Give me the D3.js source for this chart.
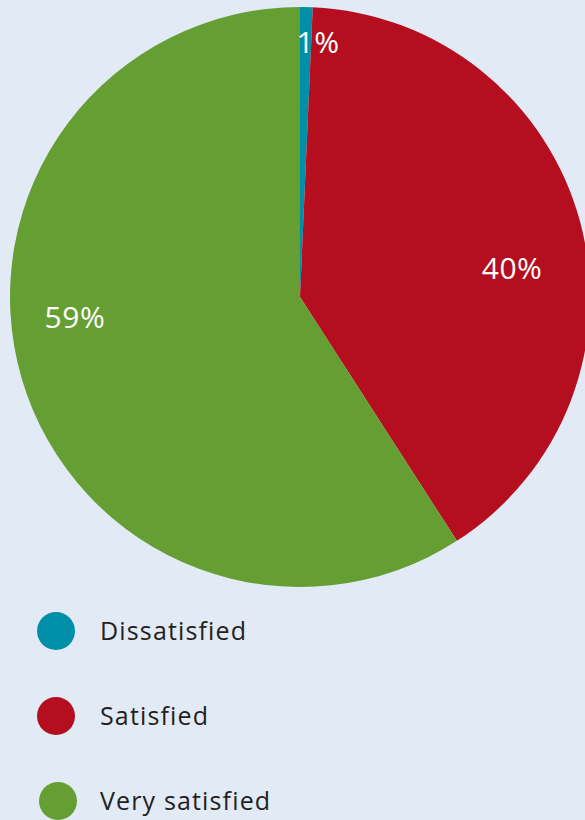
<!DOCTYPE html>
<html><head><meta charset="utf-8">
<script src="https://cdn.jsdelivr.net/npm/d3@7"></script>
<style>html,body{margin:0;padding:0;background:#E2EAF6;}svg{display:block;}</style>
</head><body>
<svg id="c" width="585" height="820"></svg>
<script>
const categories = ["Dissatisfied", "Satisfied", "Very satisfied"];
const values = [0.7, 40.2, 59.1];
const labels = ["1%", "40%", "59%"];
const colors = ["#008FA9", "#B50E1E", "#659F33"];

const svg = d3.select("#c");
const cx = 300, cy = 297, R = 290;
const g = svg.append("g").attr("transform", `translate(${cx},${cy})`);
const pie = d3.pie().sort(null).value(d => d)(values);
const arc = d3.arc().innerRadius(0).outerRadius(R);
g.selectAll("path").data(pie).join("path")
  .attr("d", arc).attr("fill", (d,i) => colors[i]);

// label placement (radius, angle nudge in degrees)
const labelPos = [[255, 2.8], [214, 7.5], [226, 11.3]];
g.selectAll("text").data(pie).join("text")
  .attr("transform", (d,i) => {
    const a = (d.startAngle + d.endAngle)/2 + labelPos[i][1]*Math.PI/180;
    const r = labelPos[i][0];
    return `translate(${r*Math.sin(a)},${-r*Math.cos(a)})`;
  })
  .attr("text-anchor","middle").attr("dy","0.36em")
  .attr("fill","#fff").attr("font-family","Open Sans, sans-serif")
  .attr("font-size", 30).attr("letter-spacing", 0.5).text((d,i) => labels[i]);

const legY = d3.scalePoint().domain(categories).range([631, 801]);
const lg = svg.append("g");
const items = lg.selectAll("g").data(categories).join("g")
  .attr("transform", (d,i) => `translate(0,${legY(d)})`);
items.append("circle").attr("cx", (d,i) => i===2 ? 58 : 56).attr("r", 19)
  .attr("fill", (d,i) => colors[i]);
items.append("text").attr("x", 100).attr("dy","0.36em")
  .attr("font-family","Open Sans, sans-serif").attr("font-size", 25)
  .attr("letter-spacing", 1.15)
  .attr("fill","#231F20").text(d => d);
</script>
</body></html>
